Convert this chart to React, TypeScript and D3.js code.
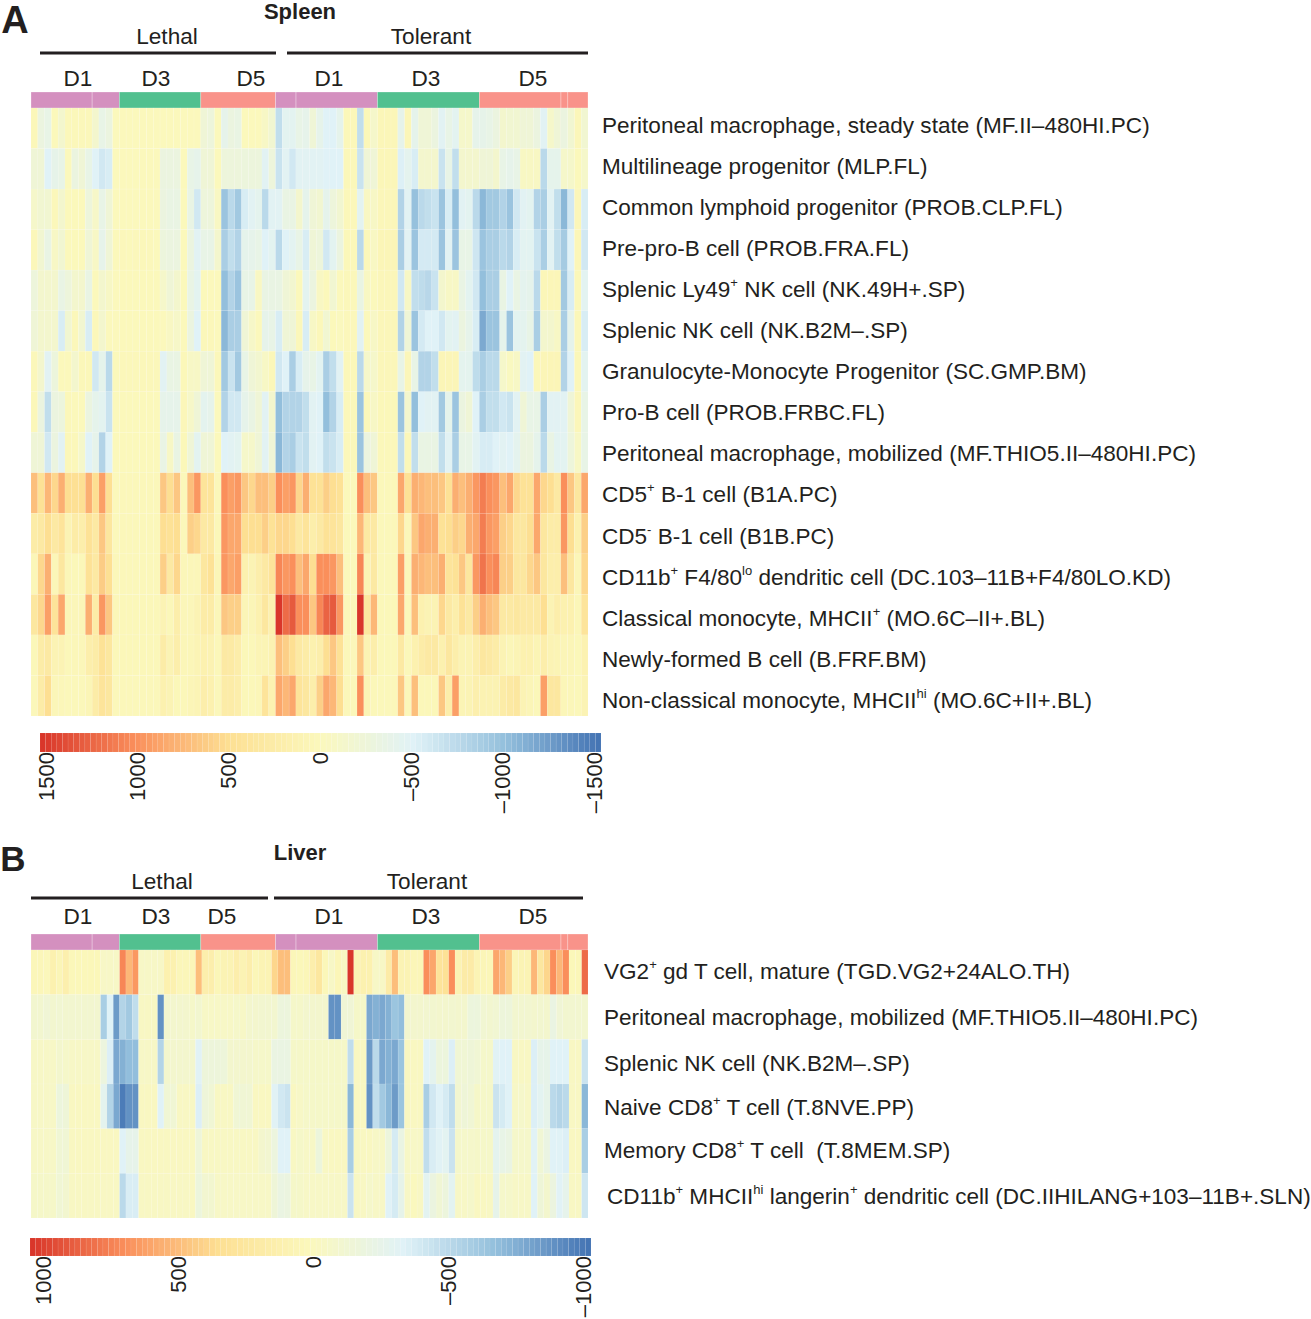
import React from "react";
import * as d3 from "d3";

// sample groups along the top of both heatmaps
const groups = ["Lethal D1", "Lethal D3", "Lethal D5", "Tolerant D1", "Tolerant D3", "Tolerant D5"];
const groupColors = ["#D490BF", "#52C08F", "#F9938A", "#D490BF", "#52C08F", "#F9938A"];
const groupCounts = [13, 12, 11, 15, 15, 16];
const groupSeams = [9, 39, 78, 79];

const spleenLabels = [
  "Peritoneal macrophage, steady state (MF.II–480HI.PC)",
  "Multilineage progenitor (MLP.FL)",
  "Common lymphoid progenitor (PROB.CLP.FL)",
  "Pre-pro-B cell (PROB.FRA.FL)",
  "Splenic Ly49^+^ NK cell (NK.49H+.SP)",
  "Splenic NK cell (NK.B2M–.SP)",
  "Granulocyte-Monocyte Progenitor (SC.GMP.BM)",
  "Pro-B cell (PROB.FRBC.FL)",
  "Peritoneal macrophage, mobilized (MF.THIO5.II–480HI.PC)",
  "CD5^+^ B-1 cell (B1A.PC)",
  "CD5^-^ B-1 cell (B1B.PC)",
  "CD11b^+^ F4/80^lo^ dendritic cell (DC.103–11B+F4/80LO.KD)",
  "Classical monocyte, MHCII^+^ (MO.6C–II+.BL)",
  "Newly-formed B cell (B.FRF.BM)",
  "Non-classical monocyte, MHCII^hi^ (MO.6C+II+.BL)",
];

const liverLabels = [
  "VG2^+^ gd T cell, mature (TGD.VG2+24ALO.TH)",
  "Peritoneal macrophage, mobilized (MF.THIO5.II–480HI.PC)",
  "Splenic NK cell (NK.B2M–.SP)",
  "Naive CD8^+^ T cell (T.8NVE.PP)",
  "Memory CD8^+^ T cell  (T.8MEM.SP)",
  "CD11b^+^ MHCII^hi^ langerin^+^ dendritic cell (DC.IIHILANG+103–11B+.SLN)",
];

const spleenRow1 = [30,-300,-360,10,-140,20,20,20,20,-140,-360,-300,0,0,0,0,0,0,0,0,0,0,0,0,0,-220,-260,0,-390,-300,-330,0,0,0,-80,-180,-700,-440,-440,-360,-390,-220,-390,-500,-500,-400,30,30,-700,30,-120,50,50,50,-390,50,-400,-220,-220,-300,-470,-360,-440,-120,-120,-390,-380,-360,-300,-140,-180,-180,-220,-220,-300,-470,-120,-220,-300,-180,40,-180];
const spleenRow2 = [-220,-220,-500,-380,-360,0,-300,-220,-360,-500,-600,-550,0,0,0,0,0,0,0,-300,-300,-300,0,-360,-390,-220,-220,0,-260,-260,-260,-270,-270,-270,-470,-260,-650,-470,-600,-470,-470,-470,-470,-500,-500,-500,30,30,-650,-220,-220,50,50,50,-520,-420,-550,-140,-140,-140,-650,-360,-700,-140,-140,-140,-220,-220,-140,-360,-390,-360,-60,-60,-60,-750,-400,-400,-120,-120,10,-120];
const spleenRow3 = [-120,-180,-180,20,-140,10,10,10,-260,-100,-360,-220,0,0,0,0,0,0,0,-300,-330,-330,10,-340,-600,-260,-260,-60,-950,-750,-900,-550,-470,-420,-750,-470,-470,-330,-330,-140,-400,-220,-180,-400,-260,-180,20,20,-450,-60,-80,40,40,40,-800,-470,-980,-750,-700,-650,-950,-550,-1000,-470,-440,-750,-1050,-900,-900,-800,-950,-600,-470,-440,-800,-850,-470,-700,-1050,-600,40,-550];
const spleenRow4 = [20,-180,-340,-80,-180,10,10,10,-220,-80,-390,-220,10,15,10,15,20,15,5,-270,-300,-300,10,-300,-470,-360,-360,-140,-850,-700,-800,-400,-390,-360,-500,-440,-750,-500,-450,-360,-550,-220,-260,-600,-440,-300,30,30,-750,20,-60,60,60,60,-850,-470,-950,-580,-580,-580,-950,-470,-950,-360,-360,-620,-950,-850,-850,-750,-800,-550,-450,-450,-650,-850,-470,-700,-880,-500,50,-600];
const spleenRow5 = [-260,-140,-140,-140,-340,-260,-140,-140,-330,10,-140,-80,0,10,10,10,10,10,10,-120,-220,-140,10,-340,-440,10,0,0,-1000,-800,-950,-360,-360,-60,-330,-330,-330,-220,-160,10,-440,-300,-60,10,-180,0,25,25,-330,-60,0,40,40,40,-600,-80,-700,-720,-760,-650,-140,-80,-80,-340,-440,-600,-1000,-850,-850,-330,-500,-340,-420,-400,-750,50,50,50,-900,-550,30,-450];
const spleenRow6 = [-220,-140,-140,-140,-550,-180,20,-180,-550,20,-140,0,0,10,10,10,10,10,10,0,-60,-100,10,-300,-500,20,20,5,-1050,-850,-850,-220,-100,0,-390,-360,-550,-220,-220,20,-550,-80,20,-180,10,-15,15,15,-470,0,-80,40,40,40,-800,-220,-950,-580,-500,-500,-600,-440,-470,-300,-390,-550,-1150,-950,-950,-400,-950,-440,-420,-360,-850,-140,-140,-80,-850,-400,30,-550];
const spleenRow7 = [20,-140,-470,-270,10,10,-140,30,30,-600,-400,-750,10,20,20,20,20,20,20,-470,-330,-330,30,-80,-80,-220,-220,20,-900,-650,-900,-360,-220,-160,-80,30,-600,-500,-850,-550,-390,-360,-450,-850,-700,-470,30,30,-750,-120,-120,40,40,40,-360,40,-360,-800,-800,-700,60,60,60,-420,-420,-720,-850,-750,-750,-120,-30,-80,-470,-500,20,60,60,60,-800,-500,30,-440];
const spleenRow8 = [30,-300,-700,-300,-270,30,10,10,-300,-400,-440,-650,10,10,10,10,10,10,10,-390,-390,-390,40,-100,-220,-420,-390,0,-800,-600,-600,-390,-330,-220,-470,-140,-1000,-800,-800,-800,-700,-470,-500,-1000,-800,-550,20,20,-950,20,-80,30,30,30,-950,-140,-1000,-500,-470,-470,-900,-400,-950,-300,-220,-500,-850,-700,-700,-600,-650,-470,-220,-360,-360,-850,-470,-470,-470,-220,40,-360];
const spleenRow9 = [-220,-220,-600,-300,-470,30,20,-120,-500,-390,-800,-500,10,10,10,10,10,10,10,-340,-80,-330,30,-220,-440,-220,-220,10,-500,-470,-440,-120,-120,-220,-470,-220,-1050,-800,-850,-650,-700,-470,-500,-700,-650,-550,20,20,-950,-300,-220,20,20,20,-700,30,-700,-330,-330,-330,-700,-470,-850,-360,-360,-470,-560,-560,-500,-470,-500,-420,-300,-300,-400,-750,-340,-450,-450,-260,-80,-360];
const spleenRow10 = [700,450,750,550,800,500,480,480,800,500,900,480,10,20,20,20,20,20,20,650,500,650,20,700,950,400,400,20,1000,900,950,650,550,700,700,600,1000,900,950,550,800,450,450,600,500,450,10,10,1000,700,650,20,20,20,850,450,800,750,700,700,650,450,800,700,800,950,1100,1000,950,700,850,550,450,450,850,550,500,300,1000,650,350,850];
const spleenRow11 = [250,300,500,300,400,100,250,200,450,300,650,350,10,20,20,20,20,20,20,500,450,500,20,600,550,300,300,30,950,850,850,500,500,500,600,450,550,550,500,300,400,200,300,450,400,350,10,10,750,300,300,20,20,20,550,20,650,850,800,800,450,500,600,550,800,850,1100,950,900,600,550,350,350,500,850,350,250,250,950,500,150,600];
const spleenRow12 = [50,550,800,50,350,50,30,30,450,300,620,480,20,20,20,20,20,20,20,600,300,550,40,40,40,350,450,50,950,850,900,150,100,200,300,400,1050,950,1000,700,850,500,1000,1000,950,700,10,10,1050,100,300,20,20,20,900,20,800,750,700,700,800,400,450,650,350,950,1150,1000,1050,600,600,350,350,550,650,350,200,200,700,350,50,550];
const spleenRow13 = [350,550,900,420,850,50,40,40,800,250,950,650,40,30,30,30,30,30,30,100,30,200,40,40,100,250,250,40,650,600,600,60,60,150,350,150,1500,1200,1300,1000,1000,650,1050,1250,1300,950,20,20,1500,350,750,30,30,30,850,20,700,150,100,100,550,300,200,450,300,600,800,700,650,300,300,350,300,300,300,500,100,200,150,150,50,400];
const spleenRow14 = [30,250,300,100,100,30,40,40,200,250,450,350,30,30,30,30,30,30,30,250,100,200,50,50,80,150,120,30,300,280,220,30,30,80,80,120,700,600,500,300,250,150,200,500,650,450,20,20,650,100,200,30,30,30,300,20,150,250,300,300,150,350,200,100,100,200,350,300,250,100,50,80,150,150,80,200,100,80,60,60,30,130];
const spleenRow15 = [20,250,500,50,40,20,20,20,70,250,400,350,20,20,20,20,20,20,20,150,100,30,30,60,80,200,150,20,250,250,200,30,30,50,400,130,850,750,850,400,350,200,600,850,750,500,20,20,1000,80,30,20,20,20,650,20,700,30,30,30,650,200,900,80,100,180,120,120,120,250,300,350,100,60,30,900,350,350,50,40,30,100];

const liverRow1 = [27,27,7,100,40,120,20,20,13,20,20,-55,-55,-55,700,500,630,-55,-55,-55,-55,100,100,27,27,27,470,130,130,33,67,67,130,67,130,33,67,67,370,470,470,27,20,33,130,230,20,-55,33,-40,1000,67,100,100,-55,-55,170,470,67,67,33,33,670,570,270,300,670,67,170,170,53,40,33,570,500,400,40,67,67,500,230,370,670,500,670,20,33,800];
const liverRow2 = [-110,-110,-140,-110,-125,-110,-110,-110,-110,-110,-110,-570,-335,-830,-530,-600,-470,-40,-40,-40,-870,-110,-95,-95,-95,-75,-110,-55,-55,-55,-55,-55,-75,-55,-95,-95,-110,-110,-110,-180,-180,-75,-75,-95,-95,-95,-95,-870,-870,-140,-140,-70,-70,-770,-730,-770,-730,-630,-670,-110,-95,-95,-110,-110,-95,-95,-110,-95,-95,-180,-180,-125,-110,-125,-170,-170,-110,-110,-110,-95,-110,-95,-215,-140,-110,-110,-110,-110];
const liverRow3 = [-55,-55,-55,-55,-95,-75,-55,-55,-55,-55,-55,-190,-350,-770,-730,-670,-670,-55,-55,-55,-530,-95,-95,-95,-95,-95,-320,-170,-170,-170,-170,-95,-95,-95,-95,-75,-75,-75,-215,-215,-215,-70,-70,-70,-70,-70,-70,-70,-70,-70,-470,-30,-30,-830,-500,-770,-730,-770,-630,-30,-30,-30,-335,-280,-180,-180,-350,-135,-135,-155,-135,-80,-80,-320,-335,-335,-40,-40,-40,-350,-255,-255,-335,-335,-335,-40,-40,-430];
const liverRow4 = [-55,-55,-55,-55,-180,-155,-30,-30,-30,-30,-30,-280,-530,-770,-970,-870,-870,-30,-30,-30,-335,-135,-135,-40,-40,-40,-350,-165,-135,-40,-40,-40,-135,-135,-135,-30,-30,-30,-320,-400,-430,-30,-55,-70,-70,-70,-70,-70,-70,-70,-700,-30,-30,-870,-470,-600,-700,-830,-630,-30,-30,-30,-570,-400,-335,-380,-470,-115,-155,-135,-70,-70,-70,-430,-380,-335,-55,-80,-55,-350,-300,-255,-500,-530,-500,-40,-40,-700];
const liverRow5 = [-55,-55,-55,-55,-135,-135,-30,-30,-30,-30,-30,-30,-30,-30,-335,-255,-255,-30,-30,-30,-30,-30,-30,-30,-30,-30,-165,-40,-40,-40,-40,-40,-40,-40,-40,-40,-95,-115,-190,-335,-335,-40,-70,-55,-55,-180,-40,-30,-30,-30,-570,-30,-30,-30,-55,-55,-180,-380,-215,-55,-55,-55,-470,-365,-320,-300,-430,-80,-80,-80,-70,-70,-70,-280,-235,-215,-80,-80,-80,-320,-135,-215,-335,-330,-350,-30,-30,-570];
const liverRow6 = [-70,-70,-70,-70,-135,-105,-40,-40,-40,-40,-40,-40,-40,-40,-500,-365,-365,-40,-40,-40,-40,-40,-40,-40,-40,-30,-180,-115,-105,-55,-55,-55,-55,-55,-55,-55,-55,-55,-155,-215,-200,-70,-70,-55,-55,-55,-55,-55,-55,-55,-430,-40,-40,-80,-55,-55,-335,-380,-255,-55,-10,-40,-300,-200,-135,-180,-300,-55,-55,-80,-30,-30,-40,-255,-80,-80,-55,-55,-55,-335,-155,-95,-200,-325,-265,-40,-40,-410];

const spleenRows = [spleenRow1, spleenRow2, spleenRow3, spleenRow4, spleenRow5, spleenRow6, spleenRow7, spleenRow8, spleenRow9, spleenRow10, spleenRow11, spleenRow12, spleenRow13, spleenRow14, spleenRow15];
const liverRows = [liverRow1, liverRow2, liverRow3, liverRow4, liverRow5, liverRow6];

const spleenTicks = [1500, 1000, 500, 0, -500, -1000, -1500];
const liverTicks = [1000, 500, 0, -500, -1000];
const ramp = ["#D9362A", "#FA8F5B", "#FDDF92", "#FBF8BC", "#E0F2F7", "#93BFDC", "#4575B4"];
const swatches = d3.range(100);

const ink = "#231F20";
const font = "'Liberation Sans', Arial, sans-serif";

const makeColor = (max: number) =>
  d3.scaleLinear<string>().domain(d3.range(7).map((i) => max - (i * max) / 3)).range(ramp).clamp(true);

const RichLabel = ({ text, x, y }: { text: string; x: number; y: number }) => {
  const parts = text.split("^");
  return (
    <text x={x} y={y} dominantBaseline="central" fontSize={22.55} fill={ink}>
      {parts.map((p, i) => (
        <tspan
          key={i}
          fontSize={i % 2 ? 13 : 22.55}
          dy={i === 0 ? 0 : i % 2 ? -7 : 7}
          xmlSpace="preserve"
        >
          {p}
        </tspan>
      ))}
    </text>
  );
};

const Annotation = ({ x0, x1, y0, y1 }: { x0: number; x1: number; y0: number; y1: number }) => {
  const total = d3.sum(groupCounts);
  const x = d3.scaleLinear().domain([0, total]).range([x0, x1]);
  const starts = [0, ...d3.cumsum(groupCounts)];
  return (
    <g>
      {groups.map((g, i) => (
        <rect key={g} x={x(starts[i])} y={y0} width={x(starts[i + 1]) - x(starts[i])} height={y1 - y0} fill={groupColors[i]} stroke="#fff" strokeOpacity={0.45} strokeWidth={0.6} />
      ))}
      {groupSeams.map((c) => (
        <line key={c} x1={x(c)} x2={x(c)} y1={y0} y2={y1} stroke="#fff" strokeOpacity={0.55} strokeWidth={0.8} />
      ))}
    </g>
  );
};

const Heatmap = ({ rows, max, x0, x1, y0, y1 }: { rows: number[][]; max: number; x0: number; x1: number; y0: number; y1: number }) => {
  const color = makeColor(max);
  const x = d3.scaleBand<number>().domain(d3.range(rows[0].length)).range([x0, x1]);
  const y = d3.scaleBand<number>().domain(d3.range(rows.length)).range([y0, y1]);
  return (
    <g>
      {rows.map((row, r) =>
        row.map((v, c) => (
          <rect key={`${r}-${c}`} x={x(c)} y={y(r)} width={x.bandwidth()} height={y.bandwidth()} fill={color(v)} stroke="#fff" strokeOpacity={0.14} strokeWidth={0.6} />
        ))
      )}
    </g>
  );
};

const Legend = ({ max, ticks, x0, x1, y0, y1, tickX0, tickX1 }: { max: number; ticks: number[]; x0: number; x1: number; y0: number; y1: number; tickX0: number; tickX1: number }) => {
  const color = makeColor(max);
  const band = d3.scaleBand<number>().domain(swatches).range([x0, x1]);
  const value = d3.scaleLinear().domain([0, 99]).range([max, -max]);
  const tx = d3.scaleLinear().domain([max, -max]).range([tickX0, tickX1]);
  return (
    <g>
      {swatches.map((s) => (
        <rect key={s} x={band(s)} y={y0} width={band.bandwidth()} height={y1 - y0} fill={color(value(s))} stroke="#fff" strokeOpacity={0.12} strokeWidth={0.5} />
      ))}
      {ticks.map((t) => (
        <text key={t} transform={`translate(${tx(t)},${y1}) rotate(-90)`} textAnchor="end" dominantBaseline="central" fontSize={22} fill={ink}>
          {t < 0 ? `–${-t}` : t}
        </text>
      ))}
    </g>
  );
};

const Center = ({ x, y, size = 22.6, bold, children }: { x: number; y: number; size?: number; bold?: boolean; children: React.ReactNode }) => (
  <text x={x} y={y} textAnchor="middle" dominantBaseline="central" fontSize={size} fontWeight={bold ? 700 : 400} fill={ink}>
    {children}
  </text>
);

const spleenLabelY = d3.scaleLinear().domain([0, spleenLabels.length - 1]).range([124.5, 700]);
const liverLabelY = [971, 1017, 1063, 1107, 1150, 1196];
const liverLabelX = [604, 604, 604, 604, 604, 607];
const spleenDayX = [78, 156, 251, 329, 426, 533];
const liverDayX = [78, 156, 222, 329, 426, 533];
const days = ["D1", "D3", "D5", "D1", "D3", "D5"];

export default function App() {
  return (
    <svg width={1311} height={1319} style={{ position: "absolute", left: 0, top: 0, background: "#fff" }} fontFamily={font}>
      <Center x={15} y={20} size={38} bold>A</Center>
      <Center x={300} y={11} size={22} bold>Spleen</Center>
      <Center x={167} y={36}>Lethal</Center>
      <Center x={431} y={36}>Tolerant</Center>
      <line x1={40} x2={276} y1={53} y2={53} stroke={ink} strokeWidth={3} />
      <line x1={287} x2={588} y1={53} y2={53} stroke={ink} strokeWidth={3} />
      {days.map((d, i) => <Center key={i} x={spleenDayX[i]} y={78}>{d}</Center>)}
      <Annotation x0={31} x1={588} y0={92} y1={108} />
      <Heatmap rows={spleenRows} max={1500} x0={31} x1={588} y0={108} y1={716} />
      {spleenLabels.map((l, i) => <RichLabel key={l} text={l} x={602} y={spleenLabelY(i)} />)}
      <Legend max={1500} ticks={spleenTicks} x0={40} x1={601} y0={733} y1={752} tickX0={46} tickX1={594} />

      <Center x={13} y={858} size={35} bold>B</Center>
      <Center x={300} y={852} size={22} bold>Liver</Center>
      <Center x={162} y={881}>Lethal</Center>
      <Center x={427} y={881}>Tolerant</Center>
      <line x1={31} x2={268} y1={898} y2={898} stroke={ink} strokeWidth={3} />
      <line x1={274} x2={583} y1={898} y2={898} stroke={ink} strokeWidth={3} />
      {days.map((d, i) => <Center key={i} x={liverDayX[i]} y={916}>{d}</Center>)}
      <Annotation x0={31} x1={588} y0={934} y1={950} />
      <Heatmap rows={liverRows} max={1000} x0={31} x1={588} y0={950} y1={1218} />
      {liverLabels.map((l, i) => <RichLabel key={l} text={l} x={liverLabelX[i]} y={liverLabelY[i]} />)}
      <Legend max={1000} ticks={liverTicks} x0={30} x1={591} y0={1238} y1={1256} tickX0={43} tickX1={583} />
    </svg>
  );
}
